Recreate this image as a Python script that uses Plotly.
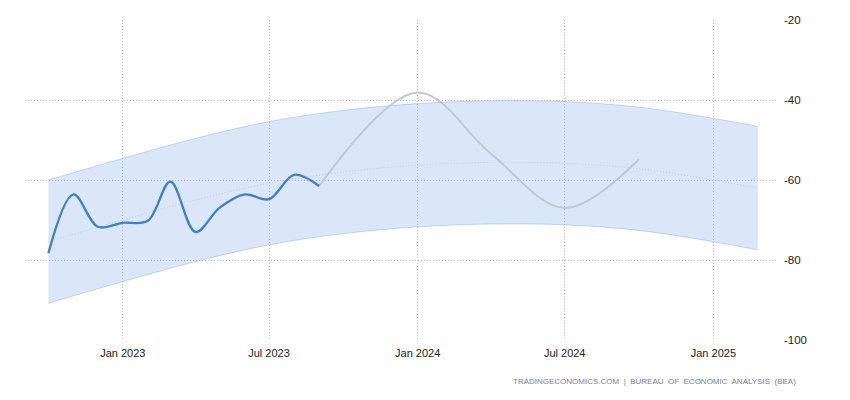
import plotly.graph_objects as go

# Actual monthly values (blue)
actual_dates = [
    "2022-10-01", "2022-11-01", "2022-12-01", "2023-01-01", "2023-02-01",
    "2023-03-01", "2023-04-01", "2023-05-01", "2023-06-01", "2023-07-01",
    "2023-08-01", "2023-09-01",
]
actual_values = [-78.3, -63.6, -71.7, -70.7, -70.2, -60.4, -73.0, -66.9,
                 -63.6, -64.8, -58.7, -61.5]

# Forecast (grey)
forecast_dates = ["2023-09-01", "2024-01-01", "2024-04-01", "2024-07-01",
                  "2024-10-01"]
forecast_values = [-61.5, -38.1, -53.5, -67.0, -54.8]

# Trend and band
trend_dates = [
    "2022-10-01", "2023-01-01", "2023-04-01", "2023-07-01", "2023-10-01",
    "2024-01-01", "2024-04-01", "2024-07-01", "2024-10-01", "2025-01-01",
    "2025-02-25",
]
trend_mid = [-75.4, -70.0, -65.0, -60.8, -58.0, -56.3, -55.6, -55.8, -57.2,
             -60.0, -62.1]
trend_upper = [-60.0, -54.6, -49.6, -45.4, -42.6, -40.9, -40.2, -40.4, -41.8,
               -44.6, -46.6]
trend_lower = [-90.8, -85.4, -80.4, -76.2, -73.4, -71.7, -71.0, -71.2, -72.6,
               -75.4, -77.5]

tick_dates = ["2023-01-01", "2023-07-01", "2024-01-01", "2024-07-01",
              "2025-01-01"]
tick_labels = ["Jan 2023", "Jul 2023", "Jan 2024", "Jul 2024", "Jan 2025"]
y_ticks = [-100, -80, -60, -40, -20]
y_labels = ["-100", "-80", "-60", "-40", "-20"]

FONT = "Liberation Sans, Arial, sans-serif"
BAND = "rgba(124,170,235,0.28)"

fig = go.Figure()
fig.add_trace(go.Scatter(
    x=trend_dates, y=trend_upper, mode="lines", line_shape="spline",
    line=dict(color="rgba(124,170,235,0.45)", width=1), hoverinfo="skip",
))
fig.add_trace(go.Scatter(
    x=trend_dates, y=trend_lower, mode="lines", line_shape="spline",
    line=dict(color="rgba(124,170,235,0.45)", width=1), fill="tonexty",
    fillcolor=BAND, hoverinfo="skip",
))
fig.add_trace(go.Scatter(
    x=trend_dates, y=trend_mid, mode="lines", line_shape="spline",
    line=dict(color="#c3c9d3", width=1, dash="1px,2px"), hoverinfo="skip",
))
fig.add_trace(go.Scatter(
    x=forecast_dates, y=forecast_values, mode="lines", line_shape="spline",
    line=dict(color="#c2c8d2", width=2),
))
fig.add_trace(go.Scatter(
    x=actual_dates, y=actual_values, mode="lines", line_shape="spline",
    line=dict(color="#3f7fc3", width=2.3),
))

# the page body adds an 8px offset, margins compensate for it
fig.update_layout(
    width=850, height=400,
    margin=dict(l=17, r=80, t=12, b=68, autoexpand=False),
    plot_bgcolor="white", paper_bgcolor="white",
    showlegend=False,
    font=dict(family=FONT, size=11, color="#222"),
    xaxis=dict(
        range=["2022-09-02", "2025-03-22"],
        tickvals=tick_dates, ticktext=tick_labels,
        showgrid=True, gridcolor="#c4c4c4", griddash="1px,2px", gridwidth=1,
        zeroline=False, showline=False, ticks="",
        ticklabelstandoff=5,
        tickfont=dict(size=11, color="#222"),
    ),
    yaxis=dict(
        side="right", range=[-100, -20], tickvals=y_ticks, ticktext=y_labels,
        showgrid=True, gridcolor="#c4c4c4", griddash="1px,2px", gridwidth=1,
        zeroline=False, showline=False, ticks="",
        ticklabelstandoff=5,
        tickfont=dict(size=11.5, color="#222"),
    ),
    annotations=[dict(
        text="TRADINGECONOMICS.COM  |  BUREAU  OF  ECONOMIC  ANALYSIS  (BEA)",
        xref="paper", yref="paper", x=1.0266, y=-0.131,
        xanchor="right", yanchor="middle", showarrow=False,
        font=dict(family=FONT, size=8, color="#7a7f95"),
    )],
)

fig.write_html("out.html")
